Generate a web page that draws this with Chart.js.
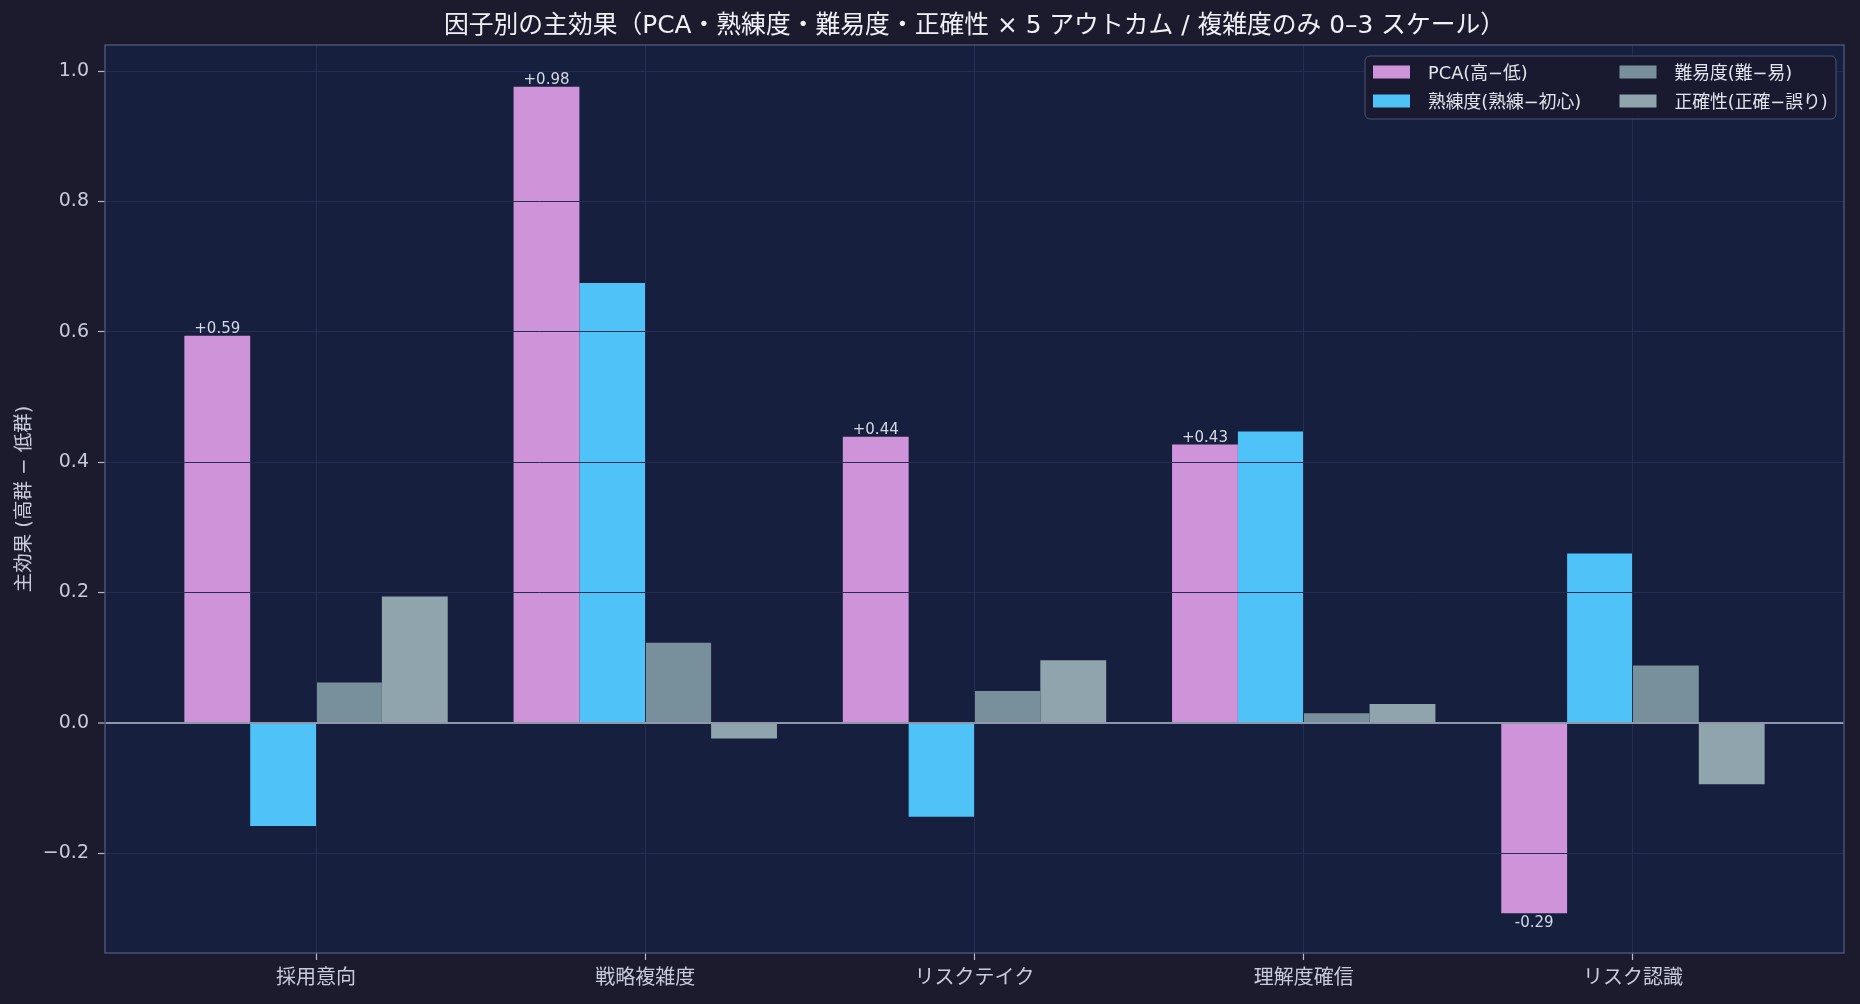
<!DOCTYPE html>
<html lang="ja">
<head>
<meta charset="utf-8">
<title>因子別の主効果</title>
<script src="https://cdn.jsdelivr.net/npm/chart.js@4.4.1/dist/chart.umd.min.js"></script>
<style>
    html, body { margin: 0; padding: 0; background: #1c1b2e; }
    canvas { display: block; }
</style>
</head>
<body>
<canvas id="effectChart" width="1860" height="1004"></canvas>
<script>
// categorie (asse x)
const outcomes = ['採用意向', '戦略複雑度', 'リスクテイク', '理解度確信', 'リスク認識'];

// serie: effetto principale (alto - basso) per fattore
const pcaEffect = [0.594, 0.976, 0.439, 0.427, -0.292];
const skillEffect = [-0.158, 0.675, -0.144, 0.447, 0.260];
const difficultyEffect = [0.062, 0.123, 0.049, 0.015, 0.088];
const accuracyEffect = [0.194, -0.024, 0.096, 0.029, -0.094];

const seriesLabels = ['PCA(高−低)', '熟練度(熟練−初心)', '難易度(難−易)', '正確性(正確−誤り)'];
const seriesColors = ['#ce93d8', '#4fc3f7', '#78909c', '#90a4ae'];

const chartTitle = '因子別の主効果（PCA・熟練度・難易度・正確性 × 5 アウトカム / 複雑度のみ 0–3 スケール）';

// tick asse y
const yTicks = [-0.2, 0, 0.2, 0.4, 0.6, 0.8, 1.0];
const yMin = -0.353;
const yMax = 1.04;
const xMin = -0.641;
const xMax = 4.641;

// latino in DejaVu, CJK in fallback
const FONT = '"DejaVu Sans", "Noto Sans CJK JP", sans-serif';
Chart.defaults.font.family = FONT;

const GRID = '#242e52';

const toPoints = arr => arr.map((v, i) => ({ x: i, y: v }));

// sfondo pagina e area grafico
const backgroundPlugin = {
    id: 'background',
    beforeDraw(chart) {
        const { ctx, chartArea: a } = chart;
        ctx.save();
        ctx.fillStyle = '#1c1b2e';
        ctx.fillRect(0, 0, chart.width, chart.height);
        ctx.fillStyle = '#161f3d';
        ctx.fillRect(a.left, a.top, a.right - a.left, a.bottom - a.top);
        ctx.restore();
    }
};

// cornice, titolo, etichette valori PCA e legenda interna
const overlayPlugin = {
    id: 'overlay',
    afterDraw(chart) {
        const { ctx, chartArea: a } = chart;
        ctx.save();

        // bordo area
        ctx.strokeStyle = '#4a5175';
        ctx.lineWidth = 1.5;
        ctx.strokeRect(a.left, a.top, a.right - a.left, a.bottom - a.top);

        // titolo centrato sull'area del grafico
        ctx.font = '24.8px ' + FONT;
        ctx.fillStyle = '#f0f1f6';
        ctx.textAlign = 'center';
        ctx.textBaseline = 'middle';
        ctx.fillText(chartTitle, (a.left + a.right) / 2, a.top - 18.5);

        // etichette sul primo dataset
        const meta = chart.getDatasetMeta(0);
        ctx.font = '15px ' + FONT;
        ctx.fillStyle = '#d6d9e6';
        ctx.textAlign = 'center';
        ctx.textBaseline = 'alphabetic';
        meta.data.forEach((bar, i) => {
            const v = pcaEffect[i];
            const txt = (v >= 0 ? '+' : '-') + Math.abs(v).toFixed(2);
            const y = v >= 0 ? bar.y - 3 : bar.y + 14;
            ctx.fillText(txt, bar.x, y);
        });

        // legenda (2 colonne)
        const boxW = 471, boxH = 63;
        const bx = a.right - 8 - boxW;
        const by = a.top + 11;
        ctx.beginPath();
        ctx.roundRect(bx, by, boxW, boxH, 5);
        ctx.fillStyle = 'rgba(26, 26, 46, 0.92)';
        ctx.fill();
        ctx.strokeStyle = '#4a5275';
        ctx.lineWidth = 1;
        ctx.stroke();

        ctx.font = '17.8px ' + FONT;
        ctx.textAlign = 'left';
        ctx.textBaseline = 'middle';
        chart.data.datasets.forEach((ds, i) => {
            const col = Math.floor(i / 2);
            const row = i % 2;
            const sx = bx + 8 + col * 246.5;
            const cy = by + 16 + row * 29;
            ctx.fillStyle = ds.backgroundColor;
            ctx.fillRect(sx, cy - 6.5, 37, 13);
            ctx.fillStyle = '#e2e4ee';
            ctx.fillText(ds.label, sx + 55, cy + 2);
        });

        ctx.restore();
    }
};

const datasets = [pcaEffect, skillEffect, difficultyEffect, accuracyEffect].map((arr, i) => ({
    label: seriesLabels[i],
    data: toPoints(arr),
    backgroundColor: seriesColors[i],
    borderWidth: 0,
    categoryPercentage: 0.8,
    barPercentage: 1.0
}));

new Chart(document.getElementById('effectChart'), {
    type: 'bar',
    data: { datasets: datasets },
    plugins: [backgroundPlugin, overlayPlugin],
    options: {
        responsive: false,
        animation: false,
        devicePixelRatio: 1,
        layout: { padding: { left: 0, right: 16, top: 45, bottom: 0 } },
        plugins: {
            legend: { display: false },
            tooltip: { enabled: false },
            title: { display: false }
        },
        scales: {
            x: {
                type: 'linear',
                min: xMin,
                max: xMax,
                offset: false,
                afterBuildTicks: axis => {
                    axis.ticks = outcomes.map((_, i) => ({ value: i }));
                },
                afterFit: axis => { axis.height = 51; },
                ticks: {
                    color: '#c8cbdb',
                    font: { size: 20 },
                    padding: 7,
                    maxRotation: 0,
                    autoSkip: false,
                    callback: v => outcomes[v] ?? ''
                },
                grid: {
                    offset: false,
                    z: 1,
                    color: GRID,
                    lineWidth: 1,
                    tickColor: '#b4b8cc',
                    tickLength: 7,
                    tickWidth: 1.2
                },
                border: { display: false }
            },
            y: {
                type: 'linear',
                min: yMin,
                max: yMax,
                afterBuildTicks: axis => {
                    axis.ticks = yTicks.map(v => ({ value: v }));
                },
                afterFit: axis => { axis.width = 105; },
                ticks: {
                    color: '#c8cbdb',
                    font: { size: 19 },
                    padding: 9,
                    callback: v => (v < 0 ? '−' : '') + Math.abs(v).toFixed(1)
                },
                grid: {
                    z: 1,
                    color: ctx => ctx.tick && ctx.tick.value === 0 ? '#8f97aa' : GRID,
                    lineWidth: ctx => ctx.tick && ctx.tick.value === 0 ? 2 : 1,
                    tickColor: '#b4b8cc',
                    tickLength: 7,
                    tickWidth: 1.2
                },
                border: { display: false },
                title: {
                    display: true,
                    text: '主効果 (高群 − 低群)',
                    color: '#c8cbdb',
                    font: { size: 19.5 },
                    padding: { top: 13, bottom: 0 }
                }
            }
        }
    }
});
</script>
</body>
</html>
